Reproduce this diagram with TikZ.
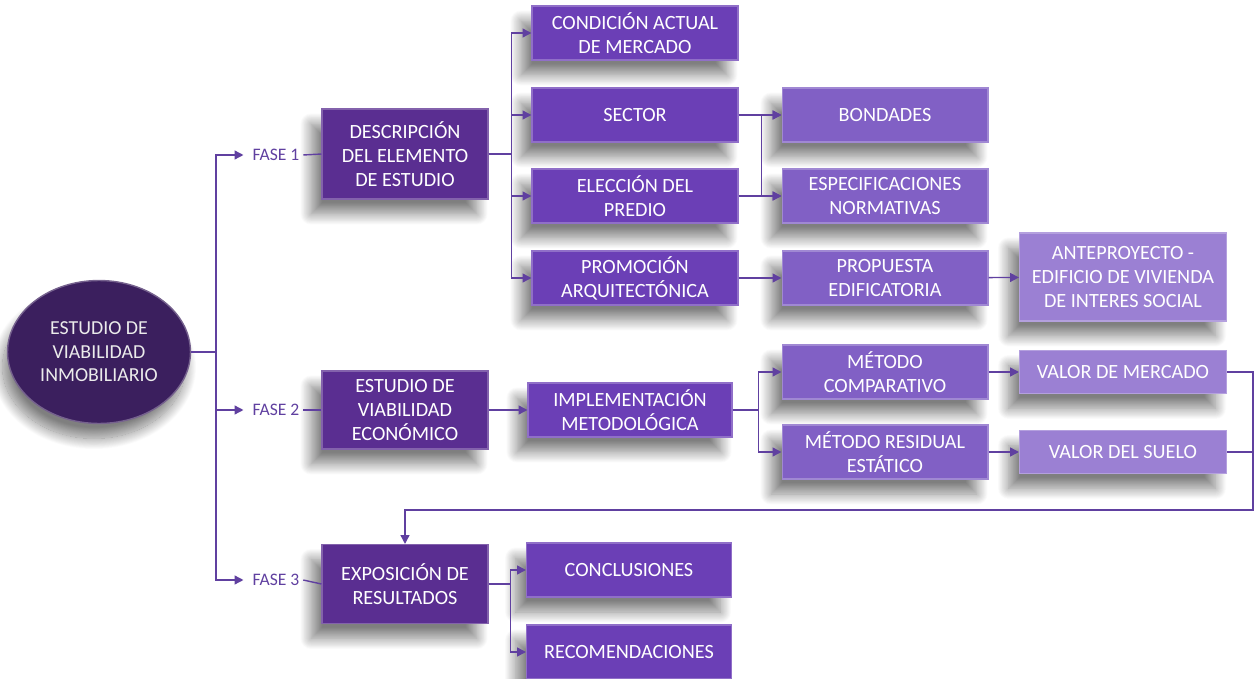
\documentclass[tikz,border=0pt]{standalone}
\usepackage{fontspec}
\setmainfont{Carlito}
\usetikzlibrary{arrows.meta,shapes.geometric,shadows.blur}
\definecolor{moradoA}{HTML}{3B1F5E}
\definecolor{moradoB}{HTML}{5A2E91}
\definecolor{moradoC}{HTML}{6B3FB6}
\definecolor{moradoD}{HTML}{8160C5}
\definecolor{moradoE}{HTML}{9B80D3}
\definecolor{trazo}{HTML}{6040A0}
\tikzset{
  caja/.style={rectangle, draw=#1!75!white, line width=0.6pt, fill=#1, text=white,
    align=center, inner sep=1pt, font=\fontsize{11.5}{13.6}\selectfont,
    blur shadow={shadow xshift=-0.22cm, shadow yshift=-0.3cm, shadow blur radius=0.22cm,
      shadow blur steps=24, shadow opacity=50}},
  nivelA/.style={caja=moradoB, minimum width=3.32cm},
  nivelB/.style={caja=moradoC, minimum width=4.12cm, minimum height=1.08cm},
  nivelC/.style={caja=moradoD, minimum width=4.12cm, minimum height=1.08cm},
  nivelD/.style={caja=moradoE, minimum width=4.14cm},
  fase/.style={text=trazo, font=\fontsize{10}{12}\selectfont, inner sep=2pt},
  linea/.style={draw=trazo, line width=0.8pt},
  flecha/.style={linea, -{Triangle[length=5pt,width=5pt]}}
}
\begin{document}
\begin{tikzpicture}[x=0.02cm,y=-0.02cm]
  \useasboundingbox (0,0) rectangle (1255,679);
  % raiz
  \node[ellipse, fill=moradoA, draw=moradoA!70!white, line width=0.8pt, text=white!92!black,
    minimum width=3.66cm, minimum height=2.86cm, inner sep=0pt, align=center,
    font=\fontsize{11.3}{13.4}\selectfont,
    blur shadow={shadow xshift=-0.1cm, shadow yshift=-0.3cm, shadow blur radius=0.22cm,
      shadow blur steps=24, shadow opacity=50}]
    (raiz) at (99,352) {ESTUDIO DE\\VIABILIDAD\\INMOBILIARIO};
  % fases
  \node[fase] (f1) at (276,155) {FASE 1};
  \node[fase] (f2) at (276,410) {FASE 2};
  \node[fase] (f3) at (276,580) {FASE 3};
  % fase 1
  \node[nivelA, minimum height=1.8cm] (desc) at (405,154) {DESCRIPCIÓN\\DEL ELEMENTO\\DE ESTUDIO};
  \node[nivelB] (cond) at (635,33) {CONDICIÓN ACTUAL\\DE MERCADO};
  \node[nivelB] (sect) at (635,115) {SECTOR};
  \node[nivelB] (elec) at (635,196) {ELECCIÓN DEL\\PREDIO};
  \node[nivelB] (prom) at (635,278) {PROMOCIÓN\\ARQUITECTÓNICA};
  \node[nivelC] (bond) at (885,115) {BONDADES};
  \node[nivelC] (espe) at (885,196) {ESPECIFICACIONES\\NORMATIVAS};
  \node[nivelC] (prop) at (885,278) {PROPUESTA\\EDIFICATORIA};
  \node[nivelD, minimum height=1.76cm] (ante) at (1123,277) {ANTEPROYECTO -\\EDIFICIO DE VIVIENDA\\DE INTERES SOCIAL};
  % fase 2
  \node[nivelA, minimum height=1.56cm] (estv) at (405,410) {ESTUDIO DE\\VIABILIDAD\\ECONÓMICO};
  \node[nivelB, minimum width=4.08cm] (impl) at (630,410) {IMPLEMENTACIÓN\\METODOLÓGICA};
  \node[nivelC] (mcom) at (885,372) {MÉTODO\\COMPARATIVO};
  \node[nivelC] (mres) at (885,452) {MÉTODO RESIDUAL\\ESTÁTICO};
  \node[nivelD, minimum height=0.86cm] (vmer) at (1123,372) {VALOR DE MERCADO};
  \node[nivelD, minimum height=0.86cm] (vsue) at (1123,452) {VALOR DEL SUELO};
  % fase 3
  \node[nivelA, minimum height=1.58cm] (expo) at (405,584) {EXPOSICIÓN DE\\RESULTADOS};
  \node[nivelB, minimum width=4.1cm] (conc) at (629,570) {CONCLUSIONES};
  \node[nivelB, minimum width=4.1cm] (reco) at (629,652) {RECOMENDACIONES};
  \coordinate (giro) at (1253,510);
  % conectores
  \foreach \f in {f1,f2,f3}
    \draw[flecha, shorten >=3pt] (raiz.east) -- ++(25,0) |- (\f.west);
  \draw[linea] (f1.east) -- (desc.west);
  \draw[linea] (f2.east) -- (estv.west);
  \draw[linea] (f3.east) -- (expo.west);
  \foreach \n in {cond,sect,elec,prom}
    \draw[flecha] (desc.east) -- ++(23,0) |- (\n.west);
  \foreach \a in {sect,elec}
    \foreach \b in {bond,espe}
      \draw[flecha] (\a.east) -- ++(23,0) |- (\b.west);
  \draw[flecha] (prom) -- (prop);
  \draw[flecha] (prop) -- (ante);
  \draw[flecha] (estv) -- (impl);
  \foreach \n in {mcom,mres}
    \draw[flecha] (impl.east) -- ++(26,0) |- (\n.west);
  \draw[flecha] (mcom) -- (vmer);
  \draw[flecha] (mres) -- (vsue);
  \draw[linea] (vsue.east) -- (vsue.east -| giro);
  \draw[flecha] (vmer.east) -| (giro) -| (expo.north);
  \foreach \n in {conc,reco}
    \draw[flecha] (expo.east) -- ++(22,0) |- (\n.west);
\end{tikzpicture}
\end{document}
